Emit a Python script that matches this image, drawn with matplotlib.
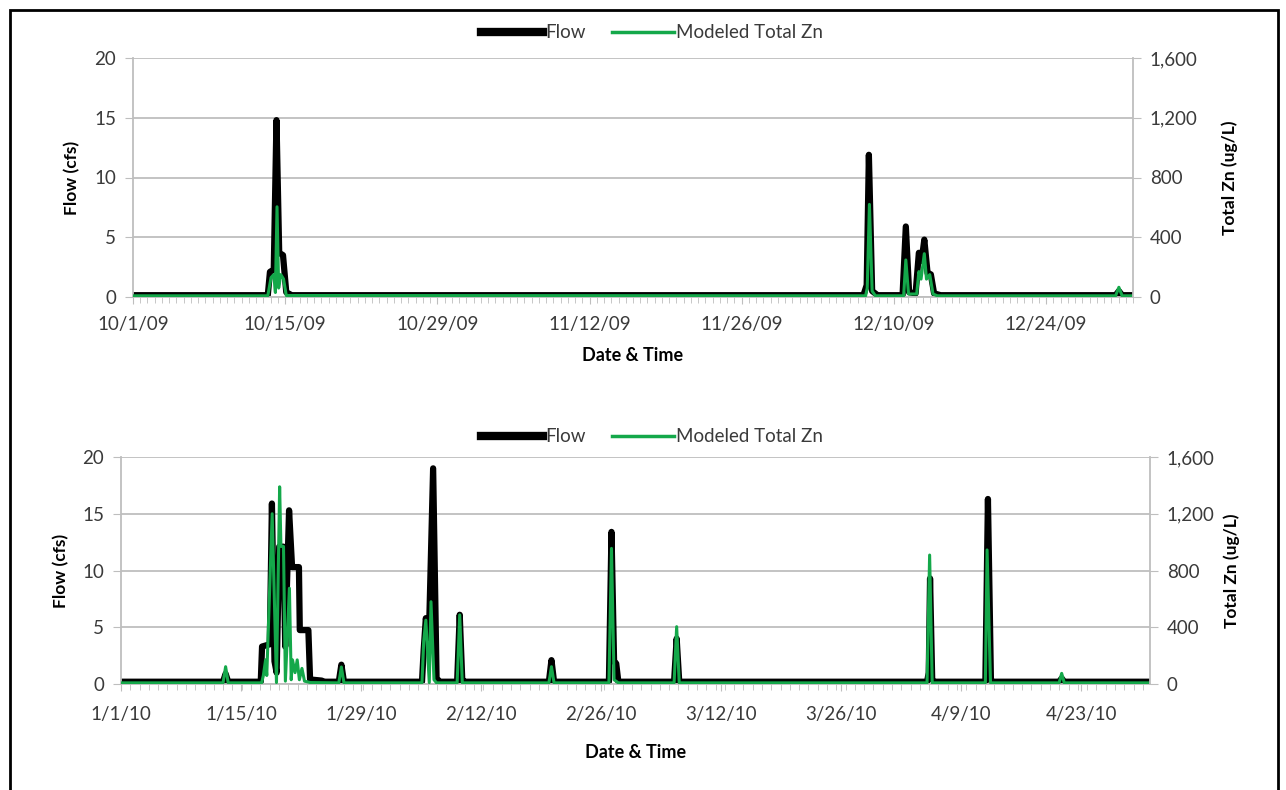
import pandas as pd
import matplotlib
matplotlib.use('Agg')
import matplotlib.pyplot as plt
import matplotlib.dates as mdates
from matplotlib.ticker import FuncFormatter, FixedLocator
from matplotlib.lines import Line2D
from matplotlib.patches import Rectangle

plt.rcParams['font.family'] = ['Lato', 'DejaVu Sans']

ZN_GREEN = '#14A84A'
GRID = '#BEBEBE'
TEXT = '#3A3A3A'

# Oct - Dec 2009 (days since 10/1/09)
fall_flow_day = [0, 12.4, 12.6, 12.95, 13.2, 13.45, 13.8, 14.1, 14.6,
                 67.2, 67.5, 67.7, 68.0, 68.5,
                 70.8, 71.1, 71.4, 72.0, 72.3, 72.55, 72.8, 73.1, 73.4, 73.7, 74.3,
                 90.4, 90.7, 91.0, 92]
fall_flow = [0.15, 0.15, 2.1, 2.3, 14.8, 3.7, 3.5, 0.4, 0.15,
             0.15, 1.0, 11.9, 0.5, 0.15,
             0.15, 5.9, 0.4, 0.3, 3.7, 3.0, 4.8, 2.0, 1.9, 0.3, 0.15,
             0.15, 0.5, 0.15, 0.15]
fall_zn_day = [0, 12.4, 12.7, 12.95, 13.1, 13.25, 13.4, 13.6, 13.85, 14.1,
               67.4, 67.55, 67.75, 68.0, 68.3,
               70.9, 71.1, 71.35, 72.1, 72.3, 72.5, 72.8, 73.0, 73.3, 73.6, 74.0,
               90.4, 90.7, 91.0, 92]
fall_zn = [8, 8, 130, 150, 30, 604, 60, 150, 120, 10,
           8, 60, 620, 40, 8,
           8, 248, 20, 20, 170, 120, 290, 120, 150, 20, 8,
           8, 65, 8, 8]

# Jan - Apr 2010 (days since 1/1/10)
spring_flow_day = [0, 11.9, 12.2, 12.5,
                   16.3, 16.45, 17.35, 17.6, 17.9, 18.15, 18.45, 18.95, 19.15, 19.6,
                   19.95, 20.75, 20.85, 21.85, 22.05, 23.4, 23.7,
                   25.4, 25.7, 26.0,
                   35.1, 35.3, 35.55, 35.9, 36.4, 36.8, 37.2,
                   39.2, 39.5, 39.8, 40.2,
                   49.9, 50.2, 50.5,
                   56.9, 57.2, 57.5, 57.75, 58.0,
                   64.5, 64.8, 65.1,
                   94.0, 94.2, 94.35, 94.6, 94.9,
                   100.8, 101.1, 101.45, 101.8,
                   109.4, 109.7, 110.0, 120]
spring_flow = [0.2, 0.2, 0.9, 0.2,
               0.2, 3.3, 3.5, 15.9, 2.0, 1.0, 12.1, 12.1, 3.3, 15.3,
               10.3, 10.3, 4.75, 4.75, 0.4, 0.3, 0.2,
               0.2, 1.7, 0.2,
               0.2, 3.0, 5.8, 4.0, 19.0, 0.5, 0.2,
               0.2, 6.1, 0.3, 0.2,
               0.2, 2.1, 0.2,
               0.2, 13.4, 2.0, 1.8, 0.2,
               0.2, 4.0, 0.2,
               0.2, 1.0, 9.3, 0.4, 0.2,
               0.2, 16.3, 0.3, 0.2,
               0.2, 0.5, 0.2, 0.2]
spring_zn_day = [0, 11.9, 12.2, 12.5,
                 16.4, 16.6, 16.86, 17.0, 17.63, 18.13, 18.5, 18.65, 18.95, 19.17,
                 19.64, 19.85, 20.0, 20.3, 20.55, 20.8, 21.1, 21.4, 22.1,
                 25.4, 25.7, 26.0,
                 35.1, 35.3, 35.55, 35.95, 36.15, 36.5, 36.8,
                 39.2, 39.5, 39.8,
                 49.9, 50.2, 50.5,
                 56.9, 57.2, 57.5, 58.0,
                 64.5, 64.8, 65.1,
                 94.0, 94.3, 94.6,
                 100.8, 101.0, 101.4,
                 109.4, 109.7, 110.0, 120]
spring_zn = [8, 8, 122, 8,
             8, 60, 170, 60, 1200, 10, 1390, 970, 970, 20,
             675, 30, 170, 80, 170, 30, 110, 20, 10,
             8, 120, 8,
             8, 300, 450, 10, 580, 30, 8,
             8, 487, 8,
             8, 122, 8,
             8, 956, 30, 8,
             8, 404, 8,
             8, 909, 8,
             8, 945, 8,
             8, 75, 8, 8]


def to_dates(start, days):
    return pd.Timestamp(start) + pd.to_timedelta(days, unit='D')


def date_label(x, pos):
    d = mdates.num2date(x)
    return f'{d.month}/{d.day}/{d:%y}'


def draw_panel(fig, rect, start, end, flow_days, flow, zn_days, zn,
               minor_step, flow_lab_x, zn_lab_x, legend_y, xpad, xlabpad):
    ax = fig.add_axes(rect)
    ax2 = ax.twinx()

    ax.plot(to_dates(start, flow_days), flow, color='black', lw=4.5,
            solid_joinstyle='round', solid_capstyle='round')
    ax2.plot(to_dates(start, zn_days), zn, color=ZN_GREEN, lw=2.2,
             solid_joinstyle='round')

    ax.set_xlim(pd.Timestamp(start), pd.Timestamp(end))
    ax.set_ylim(0, 20)
    ax2.set_ylim(0, 1600)
    ax.set_yticks([0, 5, 10, 15, 20])
    ax2.set_yticks([0, 400, 800, 1200, 1600])
    ax2.yaxis.set_major_formatter(FuncFormatter(lambda v, p: f'{int(v):,}'))

    majors = pd.date_range(start, end, freq='14D')
    ax.xaxis.set_major_locator(FixedLocator(mdates.date2num(majors)))
    ax.xaxis.set_major_formatter(FuncFormatter(date_label))
    minors = pd.date_range(start, end, freq=minor_step)
    ax.xaxis.set_minor_locator(FixedLocator(mdates.date2num(minors)))

    ax.yaxis.grid(True, color=GRID, lw=1.3)
    ax.set_axisbelow(True)

    for a in (ax, ax2):
        a.spines['top'].set_visible(False)
    ax.spines['right'].set_visible(False)
    ax2.spines['left'].set_visible(False)
    ax2.spines['bottom'].set_visible(False)
    ax.spines['left'].set_color(GRID)
    ax.spines['bottom'].set_color(GRID)
    ax2.spines['right'].set_color(GRID)
    for s in (ax.spines['left'], ax.spines['bottom'], ax2.spines['right']):
        s.set_linewidth(1.3)

    ax.tick_params(axis='y', length=6, color=GRID, labelsize=13.5, pad=6,
                   labelcolor=TEXT)
    ax2.tick_params(axis='y', length=6, color=GRID, labelsize=13.5, pad=6,
                    labelcolor=TEXT)
    ax.tick_params(axis='x', which='major', length=5, color=GRID,
                   labelsize=13.5, pad=xpad, labelcolor=TEXT)
    ax.tick_params(axis='x', which='minor', length=4, color=GRID)

    ax.set_xlabel('Date & Time', fontsize=13, fontweight='bold',
                  labelpad=xlabpad)
    ax.set_ylabel('Flow (cfs)', fontsize=12.5, fontweight='bold')
    ax2.set_ylabel('Total Zn (ug/L)', fontsize=12.5, fontweight='bold')
    ax.yaxis.set_label_coords(flow_lab_x, 0.5)
    ax2.yaxis.set_label_coords(zn_lab_x, 0.5)

    handles = [Line2D([], [], color='black', lw=6),
               Line2D([], [], color=ZN_GREEN, lw=2.5)]
    fig.legend(handles, ['Flow', 'Modeled Total Zn'], loc='center',
               bbox_to_anchor=(652 / 1286, legend_y), ncol=2, frameon=False,
               fontsize=13.5, handlelength=3.3, handletextpad=0.1,
               columnspacing=1.4, labelcolor=TEXT)
    return ax, ax2


fig = plt.figure(figsize=(12.86, 7.9), dpi=100)

draw_panel(fig, [133 / 1286, 1 - 297 / 790, 1000 / 1286, 239 / 790],
           '2009-10-01', '2010-01-01', fall_flow_day, fall_flow,
           fall_zn_day, fall_zn, '16h', -0.053, 1.088, 1 - 33 / 790, 9, 10)
draw_panel(fig, [121 / 1286, 1 - 684 / 790, 1029 / 1286, 227 / 790],
           '2010-01-01', '2010-05-01', spring_flow_day, spring_flow,
           spring_zn_day, spring_zn, '26h', -0.0505, 1.071, 1 - 437 / 790,
           11, 15)

# frame around the figure
fig.patches.append(Rectangle((10 / 1286, -0.05), 1268 / 1286, 1.05 - 10 / 790,
                             transform=fig.transFigure, fill=False,
                             edgecolor='black', lw=2))

fig.savefig('out.png', dpi=100)
